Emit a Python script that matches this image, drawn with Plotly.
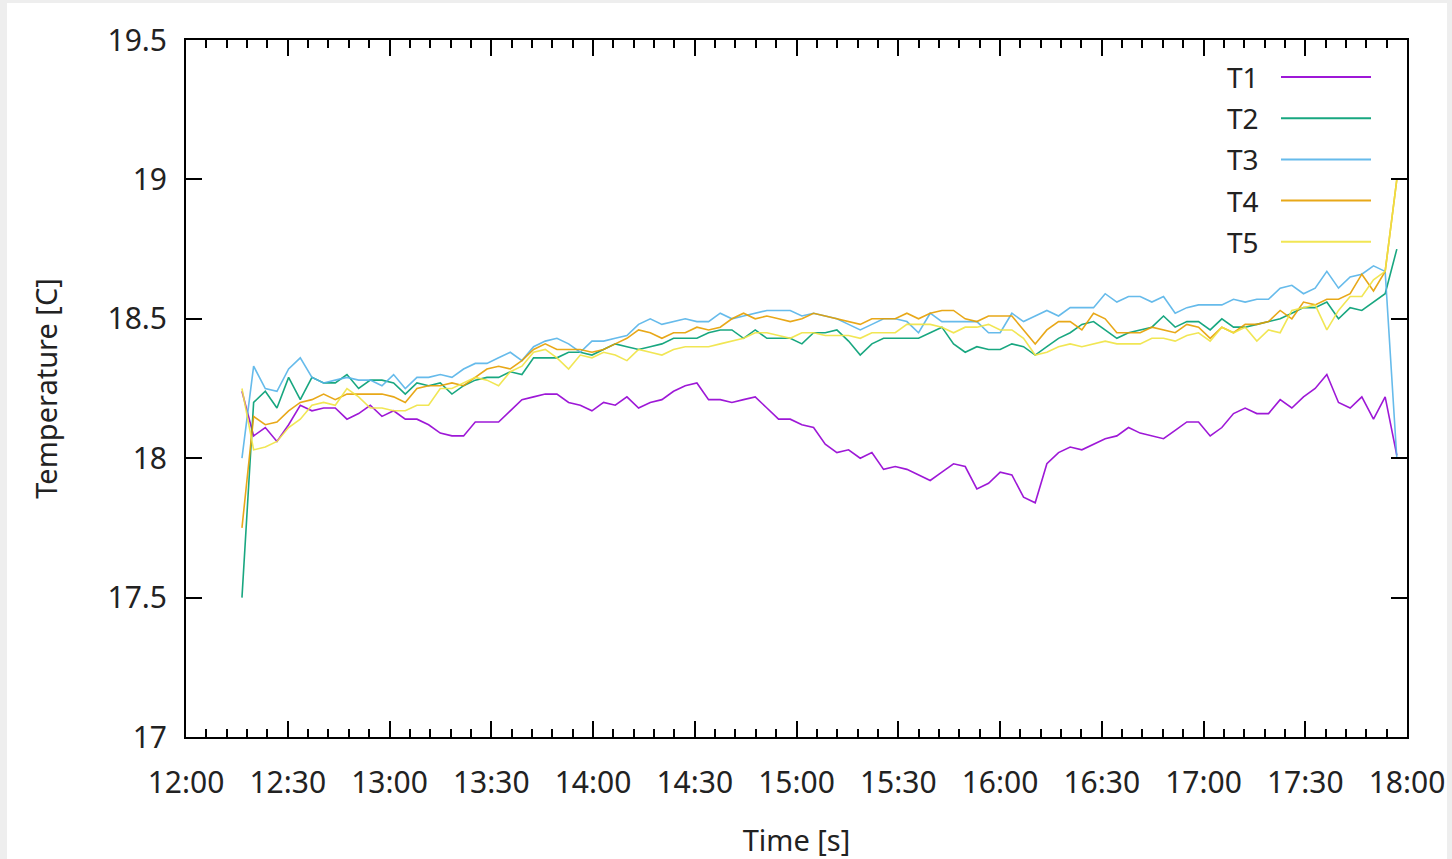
import pandas as pd
import plotly.graph_objects as go

# ---------------- data ----------------
START = "2024-01-01 12:16:30"
END = "2024-01-01 17:57:00"

SERIES_NAMES = ["T1", "T2", "T3", "T4", "T5"]
COLORS = ["#9400d3", "#009e73", "#56b4e9", "#e69f00", "#f0e442"]

T1 = [18.24, 18.08, 18.11, 18.06, 18.12, 18.19, 18.17, 18.18, 18.18, 18.14,
      18.16, 18.19, 18.15, 18.17, 18.14, 18.14, 18.12, 18.09, 18.08, 18.08,
      18.13, 18.13, 18.13, 18.17, 18.21, 18.22, 18.23, 18.23, 18.20, 18.19,
      18.17, 18.20, 18.19, 18.22, 18.18, 18.20, 18.21, 18.24, 18.26, 18.27,
      18.21, 18.21, 18.20, 18.21, 18.22, 18.18, 18.14, 18.14, 18.12, 18.11,
      18.05, 18.02, 18.03, 18.00, 18.02, 17.96, 17.97, 17.96, 17.94, 17.92,
      17.95, 17.98, 17.97, 17.89, 17.91, 17.95, 17.94, 17.86, 17.84, 17.98,
      18.02, 18.04, 18.03, 18.05, 18.07, 18.08, 18.11, 18.09, 18.08, 18.07,
      18.10, 18.13, 18.13, 18.08, 18.11, 18.16, 18.18, 18.16, 18.16, 18.21,
      18.18, 18.22, 18.25, 18.30, 18.20, 18.18, 18.22, 18.14, 18.22, 18.01]

T2 = [17.50, 18.20, 18.24, 18.18, 18.29, 18.21, 18.29, 18.27, 18.27, 18.30,
      18.25, 18.28, 18.28, 18.27, 18.23, 18.27, 18.26, 18.27, 18.23, 18.26,
      18.28, 18.29, 18.29, 18.31, 18.30, 18.36, 18.36, 18.36, 18.38, 18.38,
      18.37, 18.39, 18.41, 18.40, 18.39, 18.40, 18.41, 18.43, 18.43, 18.43,
      18.45, 18.46, 18.46, 18.43, 18.46, 18.43, 18.43, 18.43, 18.41, 18.45,
      18.45, 18.46, 18.42, 18.37, 18.41, 18.43, 18.43, 18.43, 18.43, 18.45,
      18.47, 18.41, 18.38, 18.40, 18.39, 18.39, 18.41, 18.40, 18.37, 18.40,
      18.43, 18.45, 18.48, 18.49, 18.46, 18.43, 18.45, 18.46, 18.47, 18.51,
      18.47, 18.49, 18.49, 18.46, 18.50, 18.47, 18.47, 18.48, 18.49, 18.50,
      18.52, 18.54, 18.54, 18.56, 18.50, 18.54, 18.53, 18.56, 18.59, 18.75]

T3 = [18.00, 18.33, 18.25, 18.24, 18.32, 18.36, 18.29, 18.27, 18.28, 18.29,
      18.28, 18.28, 18.26, 18.30, 18.25, 18.29, 18.29, 18.30, 18.29, 18.32,
      18.34, 18.34, 18.36, 18.38, 18.35, 18.40, 18.42, 18.43, 18.41, 18.38,
      18.42, 18.42, 18.43, 18.44, 18.48, 18.50, 18.48, 18.49, 18.50, 18.49,
      18.49, 18.52, 18.50, 18.51, 18.52, 18.53, 18.53, 18.53, 18.51, 18.52,
      18.51, 18.50, 18.48, 18.46, 18.48, 18.50, 18.50, 18.49, 18.45, 18.52,
      18.49, 18.49, 18.49, 18.49, 18.45, 18.45, 18.52, 18.49, 18.51, 18.53,
      18.51, 18.54, 18.54, 18.54, 18.59, 18.56, 18.58, 18.58, 18.56, 18.58,
      18.52, 18.54, 18.55, 18.55, 18.55, 18.57, 18.56, 18.57, 18.57, 18.61,
      18.62, 18.59, 18.61, 18.67, 18.61, 18.65, 18.66, 18.69, 18.67, 18.00]

T4 = [17.75, 18.15, 18.12, 18.13, 18.17, 18.20, 18.21, 18.23, 18.21, 18.23,
      18.23, 18.23, 18.23, 18.22, 18.20, 18.25, 18.26, 18.26, 18.27, 18.26,
      18.29, 18.32, 18.33, 18.32, 18.35, 18.39, 18.41, 18.39, 18.39, 18.39,
      18.38, 18.39, 18.41, 18.43, 18.46, 18.45, 18.43, 18.45, 18.45, 18.47,
      18.46, 18.47, 18.50, 18.52, 18.50, 18.51, 18.50, 18.49, 18.50, 18.52,
      18.51, 18.50, 18.49, 18.48, 18.50, 18.50, 18.50, 18.52, 18.50, 18.52,
      18.53, 18.53, 18.50, 18.49, 18.51, 18.51, 18.51, 18.46, 18.41, 18.46,
      18.49, 18.49, 18.46, 18.52, 18.50, 18.45, 18.45, 18.45, 18.47, 18.46,
      18.45, 18.48, 18.47, 18.43, 18.47, 18.45, 18.48, 18.48, 18.49, 18.53,
      18.50, 18.56, 18.55, 18.57, 18.57, 18.59, 18.66, 18.60, 18.67, 19.00]

T5 = [18.25, 18.03, 18.04, 18.06, 18.11, 18.14, 18.19, 18.20, 18.19, 18.25,
      18.22, 18.18, 18.18, 18.17, 18.17, 18.19, 18.19, 18.25, 18.25, 18.27,
      18.29, 18.28, 18.26, 18.31, 18.33, 18.38, 18.39, 18.36, 18.32, 18.37,
      18.36, 18.38, 18.37, 18.35, 18.39, 18.38, 18.37, 18.39, 18.40, 18.40,
      18.40, 18.41, 18.42, 18.43, 18.45, 18.45, 18.44, 18.43, 18.45, 18.45,
      18.44, 18.44, 18.44, 18.43, 18.45, 18.45, 18.45, 18.48, 18.48, 18.48,
      18.47, 18.45, 18.47, 18.47, 18.48, 18.46, 18.46, 18.43, 18.37, 18.38,
      18.40, 18.41, 18.40, 18.41, 18.42, 18.41, 18.41, 18.41, 18.43, 18.43,
      18.42, 18.44, 18.45, 18.42, 18.47, 18.45, 18.47, 18.42, 18.46, 18.45,
      18.53, 18.54, 18.55, 18.46, 18.53, 18.58, 18.58, 18.64, 18.67, 19.00]

SERIES = [T1, T2, T3, T4, T5]

X_RANGE = ["2024-01-01 12:00:00", "2024-01-01 18:00:00"]
Y_RANGE = [17, 19.5]
X_LABEL = "Time [s]"
Y_LABEL = "Temperature [C]"

# ---------------- layout geometry (pixels) ----------------
W, H = 1452, 859
L, R, T, B = 186, 1407, 40, 737
PW, PH = R - L, B - T


def px(xp):
    return (xp - L) / PW


def py(yp):
    return (B - yp) / PH


FONT = "Noto Sans"
TICK_FS = 30
TITLE_FS = 29
LEG_FS = 28
TXT = "#222222"

times = pd.date_range(START, END, periods=len(T1))

fig = go.Figure()
for name, vals, col in zip(SERIES_NAMES, SERIES, COLORS):
    fig.add_trace(go.Scatter(x=times, y=vals, mode="lines", name=name,
                             line=dict(color=col, width=1.6),
                             opacity=0.9, showlegend=False))

shapes = []
# light grey window frame around the page
for x0, x1, y0, y1 in [(0, 7, 0, H), (0, W, 0, 3), (W - 5, W, 0, H)]:
    shapes.append(dict(type="rect", xref="paper", yref="paper",
                       x0=px(x0), x1=px(x1), y0=py(y1), y1=py(y0),
                       fillcolor="#eeeeee", line=dict(width=0), layer="below"))

annotations = []
# gnuplot-style legend: label on left, sample line on right
for k, (name, col) in enumerate(zip(SERIES_NAMES, COLORS)):
    yk = 77 + 41.2 * k
    annotations.append(dict(text=name, xref="paper", yref="paper",
                            x=px(1261), y=py(yk), xanchor="right",
                            yanchor="middle", showarrow=False,
                            font=dict(family=FONT, size=LEG_FS, color=TXT)))
    shapes.append(dict(type="line", xref="paper", yref="paper",
                       x0=px(1281), x1=px(1371), y0=py(yk), y1=py(yk),
                       line=dict(color=col, width=2), opacity=0.9))

fig.update_layout(
    width=W, height=H,
    margin=dict(l=L, r=W - R, t=T, b=H - B, pad=0, autoexpand=False),
    paper_bgcolor="white", plot_bgcolor="white",
    font=dict(family=FONT, size=TICK_FS, color=TXT),
    shapes=shapes, annotations=annotations,
    showlegend=False,
)

fig.update_xaxes(
    type="date", range=X_RANGE, dtick=1800000, tick0=X_RANGE[0],
    tickformat="%H:%M", ticks="inside", ticklen=16, tickwidth=1.5,
    tickcolor="black", showline=True, linecolor="black", linewidth=2,
    mirror="allticks", showgrid=False, zeroline=False, automargin=False,
    ticklabelstandoff=18, tickfont=dict(family=FONT, size=TICK_FS, color=TXT),
    minor=dict(ticks="inside", ticklen=8, dtick=360000, tickwidth=1.5,
               tickcolor="black", showgrid=False),
    title=dict(text=X_LABEL, standoff=32,
               font=dict(family=FONT, size=TITLE_FS, color=TXT)),
)
fig.update_yaxes(
    range=Y_RANGE, dtick=0.5, ticks="inside", ticklen=16, tickwidth=1.5,
    tickcolor="black", showline=True, linecolor="black", linewidth=2,
    mirror="allticks", showgrid=False, zeroline=False, automargin=False,
    ticklabelstandoff=11, tickfont=dict(family=FONT, size=TICK_FS, color=TXT),
    title=dict(text=Y_LABEL, standoff=41,
               font=dict(family=FONT, size=TITLE_FS, color=TXT)),
)

fig.write_html(
    "out.html",
    config={"displayModeBar": False},
    post_script="document.body.style.margin='0';"
                "document.body.style.overflow='hidden';",
)
